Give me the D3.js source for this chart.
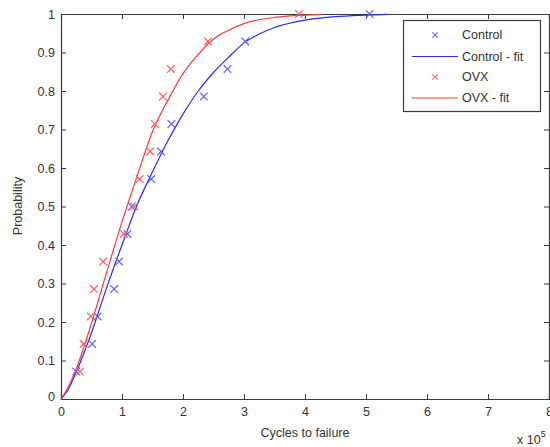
<!DOCTYPE html>
<html><head><meta charset="utf-8">
<script src="https://cdn.jsdelivr.net/npm/d3@7"></script>
<style>body{margin:0;background:#fff}svg{display:block}</style>
</head><body>
<svg id="c" width="550" height="447"></svg>
<script>
// Data (cycles in units of 1e5)
const controlX = [0.25,0.51,0.60,0.87,0.95,1.09,1.16,1.48,1.64,1.81,2.34,2.73,3.02,5.06];
const controlY = [0.0714,0.1429,0.2143,0.2857,0.3571,0.4286,0.5,0.5714,0.6429,0.7143,0.7857,0.8571,0.9286,1.0];
const ovxX = [0.31,0.37,0.49,0.54,0.69,1.03,1.20,1.29,1.46,1.54,1.67,1.80,2.41,3.90];
const ovxY = [0.0714,0.1429,0.2143,0.2857,0.3571,0.4286,0.5,0.5714,0.6429,0.7143,0.7857,0.8571,0.9286,1.0];
const controlFitX = [0,0.1,0.25,0.5,0.75,1.0,1.25,1.5,1.75,2.0,2.25,2.5,2.75,3.0,3.25,3.5,4.0,4.5,5.0,5.35];
const controlFitY = [0,0.02,0.07,0.172,0.29,0.40,0.505,0.59,0.67,0.74,0.80,0.848,0.888,0.925,0.948,0.965,0.984,0.993,0.997,0.999];
const ovxFitX = [0,0.1,0.25,0.5,0.75,1.0,1.25,1.5,1.75,2.0,2.25,2.5,2.75,3.0,3.25,3.5,3.75,4.0,4.27];
const ovxFitY = [0,0.025,0.078,0.197,0.33,0.46,0.58,0.695,0.775,0.845,0.895,0.935,0.958,0.975,0.985,0.991,0.995,0.997,0.999];
const xTicks = [0,1,2,3,4,5,6,7,8];
const yTicks = [0,0.1,0.2,0.3,0.4,0.5,0.6,0.7,0.8,0.9,1];
const legendItems = ["Control","Control - fit","OVX","OVX - fit"];

const svg = d3.select("#c");
const L = 61, R = 549, T = 14, B = 399;
const x = d3.scaleLinear().domain([0,8]).range([L,R]);
const y = d3.scaleLinear().domain([0,1]).range([B,T]);
const axisCol = "#3a3a3a", textCol = "#333";
const font = "Liberation Sans, Arial, sans-serif";

const blueLine = "#2a2aff", redLine = "#ff3a3a";
const blueMark = "#6262ff", redMark = "#ff6262";

// axes
const fmt = d => d3.format("")(d);
const gB = svg.append("g").attr("transform",`translate(0,${B})`)
  .call(d3.axisBottom(x).tickValues(xTicks).tickSize(-5).tickPadding(8).tickFormat(fmt));
const gT = svg.append("g").attr("transform",`translate(0,${T})`)
  .call(d3.axisTop(x).tickValues(xTicks).tickSize(-5).tickFormat(""));
const gL = svg.append("g").attr("transform",`translate(${L},0)`)
  .call(d3.axisLeft(y).tickValues(yTicks).tickSize(-5).tickPadding(6).tickFormat(fmt));
const gR = svg.append("g").attr("transform",`translate(${R},0)`)
  .call(d3.axisRight(y).tickValues(yTicks).tickSize(-5).tickFormat(""));
[gB,gT,gL,gR].forEach(g=>{
  g.select(".domain").attr("stroke",axisCol).attr("stroke-width",1.2);
  g.selectAll(".tick line").attr("stroke",axisCol);
  g.selectAll("text").attr("fill",textCol).attr("font-family",font).attr("font-size",12.5);
});
gL.selectAll(".tick text").filter(d=>d===0).attr("dy","0.1em");

const line = d3.line().x(d=>x(d[0])).y(d=>y(d[1])).curve(d3.curveMonotoneX);
const clip = svg.append("g");
clip.append("path").datum(d3.zip(controlFitX,controlFitY)).attr("d",line)
  .attr("fill","none").attr("stroke",blueLine).attr("stroke-width",1.2);
clip.append("path").datum(d3.zip(ovxFitX,ovxFitY)).attr("d",line)
  .attr("fill","none").attr("stroke",redLine).attr("stroke-width",1.2);

function crosses(xs, ys, col){
  const s = 3.8;
  const g = svg.append("g");
  d3.zip(xs,ys).forEach(([a,b])=>{
    const cx = x(a), cy = y(b);
    g.append("path").attr("d",`M${cx-s},${cy-s}L${cx+s},${cy+s}M${cx-s},${cy+s}L${cx+s},${cy-s}`)
      .attr("stroke",col).attr("stroke-width",1.2).attr("fill","none");
  });
}
crosses(controlX, controlY, blueMark);
crosses(ovxX, ovxY, redMark);

// labels
svg.append("text").attr("x",305).attr("y",437).attr("text-anchor","middle")
  .attr("font-family",font).attr("font-size",12.5).attr("fill",textCol).text("Cycles to failure");
svg.append("text").attr("transform","translate(22,206) rotate(-90)").attr("text-anchor","middle")
  .attr("font-family",font).attr("font-size",12.5).attr("fill",textCol).text("Probability");
const xe = svg.append("text").attr("x",517).attr("y",444).attr("font-family",font)
  .attr("font-size",12.5).attr("fill",textCol);
xe.append("tspan").text("x 10");
xe.append("tspan").attr("dy",-7).attr("font-size",9).text("5");

// legend
const lg = svg.append("g");
lg.append("rect").attr("x",403.5).attr("y",20.5).attr("width",137).attr("height",91)
  .attr("fill","#fff").attr("stroke",axisCol).attr("stroke-width",1.2);
const rows = [35,56.5,77,98];
legendItems.forEach((t,i)=>{
  const yy = rows[i];
  const col = i<2 ? (i===0?blueMark:blueLine) : (i===2?redMark:redLine);
  if(i%2===0){
    const s=2.7, cx=435;
    lg.append("path").attr("d",`M${cx-s},${yy-s}L${cx+s},${yy+s}M${cx-s},${yy+s}L${cx+s},${yy-s}`)
      .attr("stroke",col).attr("stroke-width",1.1);
  } else {
    lg.append("line").attr("x1",412).attr("x2",458).attr("y1",yy).attr("y2",yy)
      .attr("stroke",col).attr("stroke-width",1.2);
  }
  lg.append("text").attr("x",462).attr("y",yy).attr("dy","0.35em")
    .attr("font-family",font).attr("font-size",12.5).attr("fill",textCol).text(t);
});
</script>
</body></html>
